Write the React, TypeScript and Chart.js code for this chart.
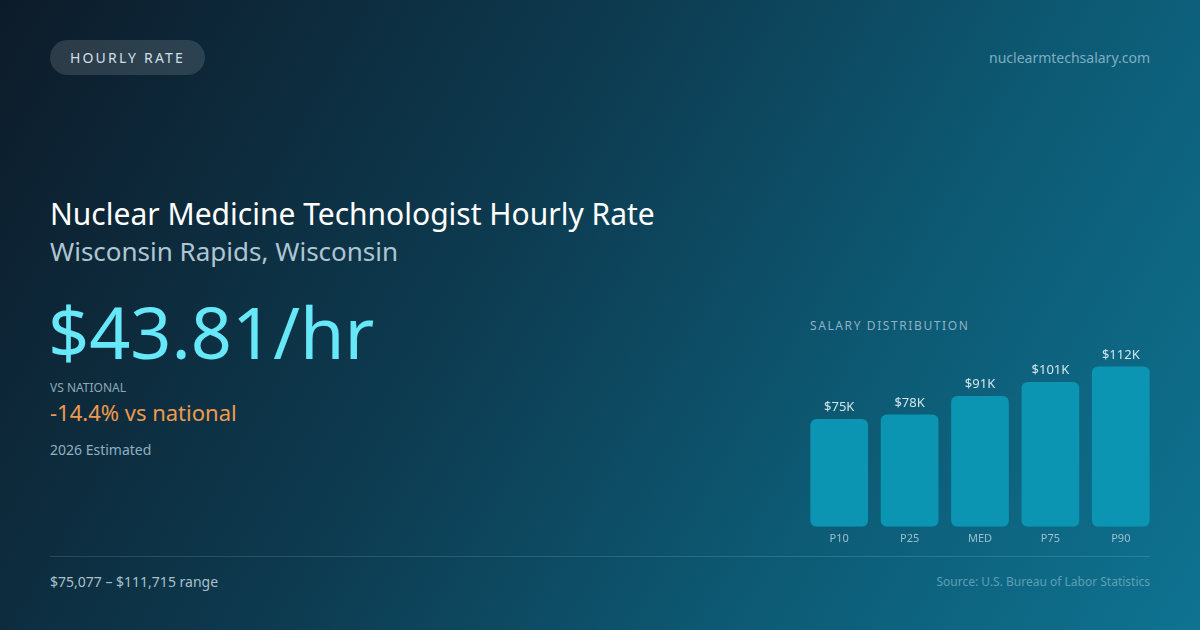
import { useEffect, useRef } from 'react';
import { Chart, registerables } from 'chart.js';

Chart.register(...registerables);

const percentileLabels = ['P10', 'P25', 'MED', 'P75', 'P90'];
const salaryValues = [75077, 78200, 91125, 100900, 111715];
const valueLabels = ['$75K', '$78K', '$91K', '$101K', '$112K'];

const FONT = '"Noto Sans", "Open Sans", sans-serif';

const valueLabelPlugin = {
  id: 'valueLabels',
  afterDatasetsDraw(chart: Chart) {
    const { ctx } = chart;
    const meta = chart.getDatasetMeta(0);
    ctx.save();
    ctx.font = `13px ${FONT}`;
    ctx.fillStyle = '#d3e4ec';
    ctx.textAlign = 'center';
    ctx.textBaseline = 'bottom';
    meta.data.forEach((bar: any, i: number) => {
      ctx.fillText(valueLabels[i], bar.x, bar.y - 5);
    });
    ctx.restore();
  }
};

function SalaryChart() {
  const canvasRef = useRef<HTMLCanvasElement>(null);

  useEffect(() => {
    if (!canvasRef.current) return;
    const chart = new Chart(canvasRef.current, {
      type: 'bar',
      data: {
        labels: percentileLabels,
        datasets: [
          {
            data: salaryValues,
            backgroundColor: '#0b95b2',
            borderRadius: 6,
            borderSkipped: false,
            barPercentage: 0.82,
            categoryPercentage: 1
          }
        ]
      },
      options: {
        animation: false,
        responsive: true,
        maintainAspectRatio: false,
        layout: { padding: 0 },
        plugins: {
          legend: { display: false },
          tooltip: { enabled: false }
        },
        scales: {
          x: {
            grid: { display: false },
            border: { display: false },
            ticks: {
              color: '#9cc0cf',
              font: { family: FONT, size: 11 },
              padding: -3
            }
          },
          y: {
            display: false,
            min: 0,
            max: 135000
          }
        }
      },
      plugins: [valueLabelPlugin]
    });
    return () => chart.destroy();
  }, []);

  return (
    <div style={{ position: 'absolute', left: 804, top: 333, width: 352, height: 209 }}>
      <canvas ref={canvasRef} />
    </div>
  );
}

export default function App() {
  useEffect(() => {
    document.body.style.margin = '0';
  }, []);

  return (
    <div
      style={{
        position: 'fixed',
        left: 0,
        top: 0,
        width: 1200,
        height: 630,
        overflow: 'hidden',
        fontFamily: FONT,
        background: 'linear-gradient(120deg, #0d1b29 0%, #0d3a4f 40%, #0d5a74 70%, #0e7391 100%)'
      }}
    >
      <div
        style={{
          position: 'absolute',
          left: 50,
          top: 40,
          width: 155,
          height: 35,
          borderRadius: 18,
          background: 'rgba(255,255,255,0.13)',
          color: '#d2dfe6',
          fontSize: 14,
          letterSpacing: 2.2,
          display: 'flex',
          alignItems: 'center',
          justifyContent: 'center'
        }}
      >
        HOURLY RATE
      </div>
      <div style={{ position: 'absolute', right: 50, top: 48, fontSize: 14, color: '#7eaec2' }}>
        nuclearmtechsalary.com
      </div>

      <div style={{ position: 'absolute', left: 50, top: 193, fontSize: 30, color: '#ffffff', whiteSpace: 'nowrap' }}>
        Nuclear Medicine Technologist Hourly Rate
      </div>
      <div style={{ position: 'absolute', left: 50, top: 233, fontSize: 26, color: '#aec6d3' }}>
        Wisconsin Rapids, Wisconsin
      </div>
      <div style={{ position: 'absolute', left: 48, top: 281, fontSize: 72, lineHeight: '100px', color: '#67e8f9' }}>
        $43.81/hr
      </div>
      <div style={{ position: 'absolute', left: 50, top: 379, fontSize: 12, color: '#8ea9b8' }}>VS NATIONAL</div>
      <div style={{ position: 'absolute', left: 50, top: 397, fontSize: 22, color: '#ef9a4d' }}>-14.4% vs national</div>
      <div style={{ position: 'absolute', left: 50, top: 440, fontSize: 14, color: '#8fb0c0' }}>2026 Estimated</div>

      <div
        style={{
          position: 'absolute',
          left: 810,
          top: 317,
          fontSize: 12,
          letterSpacing: 1.6,
          color: '#8db2c4'
        }}
      >
        SALARY DISTRIBUTION
      </div>
      <SalaryChart />

      <div
        style={{
          position: 'absolute',
          left: 50,
          top: 556,
          width: 1100,
          height: 1,
          background: 'rgba(255,255,255,0.13)'
        }}
      />
      <div style={{ position: 'absolute', left: 50, top: 572, fontSize: 14, color: '#a8c0cc' }}>
        $75,077 – $111,715 range
      </div>
      <div style={{ position: 'absolute', right: 50, top: 573, fontSize: 12, color: '#5f9fb5' }}>
        Source: U.S. Bureau of Labor Statistics
      </div>
    </div>
  );
}
